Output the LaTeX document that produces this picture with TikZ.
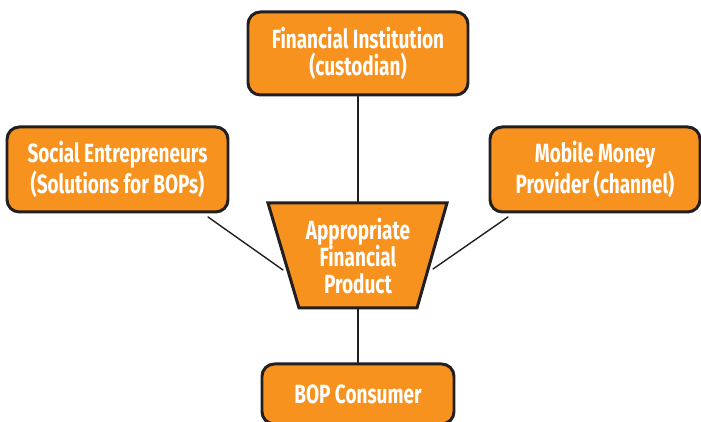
\documentclass[tikz,border=0pt]{standalone}
\usepackage{fontspec}
\setmainfont{Fira Sans}[FakeStretch=0.72]
\definecolor{boxorange}{RGB}{247,146,30}
\definecolor{boxline}{RGB}{35,31,32}
\tikzset{
	partybox/.style={draw=boxline,fill=boxorange,line width=1.7pt,rounded corners=7pt,
		text=white,align=center,font=\bfseries\fontsize{15}{15.5}\selectfont,inner sep=0pt},
	link/.style={draw=boxline,line width=0.8pt}
}
\begin{document}
\begin{tikzpicture}[line join=round,line cap=round]
	\useasboundingbox (0,0) rectangle (14.02,8.44);
	
	\node[partybox,minimum width=4.4cm,minimum height=1.66cm] (inst) at (7.16,7.37) {Financial Institution\\(custodian)};
	\node[partybox,minimum width=4.42cm,minimum height=1.7cm] (social) at (2.35,5.05) {Social Entrepreneurs\\(Solutions for BOPs)};
	\node[partybox,minimum width=4.2cm,minimum height=1.7cm] (mobile) at (11.9,5.05) {Mobile Money\\Provider (channel)};
	\node[partybox,minimum width=3.84cm,minimum height=1.2cm] (consumer) at (7.16,0.56) {BOP Consumer};
	
	% trapezoid for the product
	\coordinate (TL) at (5.36,4.38);
	\coordinate (TR) at (8.94,4.38);
	\coordinate (BR) at (8.34,2.28);
	\coordinate (BL) at (5.98,2.28);
	\draw[boxline,fill=boxorange,line width=1.7pt,line join=miter] (TL)--(TR)--(BR)--(BL)--cycle;
	\node[text=white,align=center,font=\bfseries\fontsize{15}{15.5}\selectfont] (prod) at (7.16,3.32) {Appropriate\\Financial\\Product};
	
	\coordinate (prodtop) at (7.16,4.38);
	\coordinate (prodbot) at (7.16,2.28);
	\coordinate (sfree) at (4.16,4.10);
	\coordinate (pleft) at (5.66,3.04);
	\coordinate (mfree) at (10.16,4.10);
	\coordinate (pright) at (8.66,3.06);
	
	\draw[link] (inst.south)--(prodtop);
	\draw[link] (prodbot)--(consumer.north);
	\draw[link] (sfree)--(pleft);
	\draw[link] (mfree)--(pright);
\end{tikzpicture}
\end{document}
